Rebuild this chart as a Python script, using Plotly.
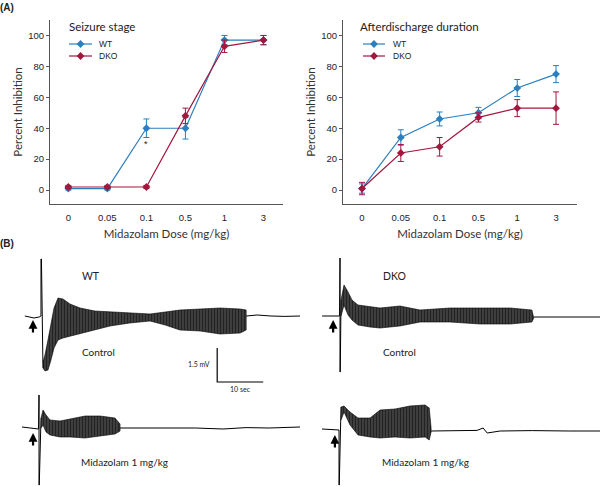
import plotly.graph_objects as go

# ---------------- Panel A data ----------------
doses = ["0", "0.05", "0.1", "0.5", "1", "3"]

seizure_wt = [1, 1, 40, 40, 97, 97]
seizure_wt_err = [1, 1, 6, 7, 3, 3]
seizure_dko = [2, 2, 2, 48, 93, 97]
seizure_dko_err = [1, 1, 1, 5, 4, 3]

ad_wt = [1, 34, 46, 50, 66, 75]
ad_wt_err = [3, 5, 4.5, 3.5, 5.5, 5.5]
ad_dko = [1, 24, 28, 47, 53, 53]
ad_dko_err = [4, 5.5, 6, 3, 5.5, 10.5]

y_ticks = [0, 20, 40, 60, 80, 100]
series_names = ["WT", "DKO"]

# ---------------- Panel B data (time s rel. to stimulus, voltage mV) ----------------
# WT control
wtc_line_t = [-3.5, -1.5, -0.4, 0.0, 0.0, 0.1, 0.43]
wtc_line_v = [0.0, -0.1, -0.05, 0.0, 2.85, 2.85, -2.6]
wtc_env_t = [0.43, 0.87, 1.52, 2.17, 2.83, 3.7, 4.78, 6.3, 8.5, 11.7, 15.0, 19.3, 23.7, 27.0, 30.2, 34.6, 38.9, 43.3, 44.6]
wtc_env_up = [-2.3, -1.95, -1.2, -0.3, 0.4, 0.9, 0.85, 0.6, 0.4, 0.25, 0.2, 0.15, 0.1, 0.2, 0.3, 0.35, 0.4, 0.35, 0.3]
wtc_env_lo = [-2.6, -2.75, -2.7, -2.2, -1.6, -1.2, -1.1, -1.0, -0.9, -0.7, -0.5, -0.35, -0.25, -0.45, -0.7, -0.75, -0.9, -0.85, -0.7]
wtc_post_t = [44.6, 47.0, 50.0, 53.0, 56.3]
wtc_post_v = [0.0, 0.05, 0.0, -0.02, 0.0]

# DKO control
dkc_line_t = [-3.9, -0.1, 0.0, 0.0, 0.05, 0.22]
dkc_line_v = [0.0, 0.0, 2.9, -2.8, -2.8, 0.8]
dkc_env_t = [0.22, 0.87, 1.74, 2.6, 3.9, 6.5, 8.7, 13.0, 17.4, 23.9, 30.4, 37.0, 41.7, 42.1]
dkc_env_up = [0.8, 1.55, 1.2, 0.8, 0.55, 0.45, 0.4, 0.5, 0.3, 0.4, 0.4, 0.4, 0.3, 0.0]
dkc_env_lo = [0.0, 0.55, 0.05, -0.2, -0.45, -0.55, -0.6, -0.5, -0.3, -0.3, -0.4, -0.4, -0.3, -0.1]
dkc_post_t = [42.1, 45.0, 50.0, 56.5]
dkc_post_v = [-0.05, -0.05, -0.07, -0.05]

# WT midazolam
wtm_line_t = [-3.7, -0.1, 0.0, 0.0, 0.05, 0.43]
wtm_line_v = [0.05, -0.05, 1.65, -2.85, -2.85, 0.5]
wtm_env_t = [0.43, 0.87, 1.52, 2.39, 4.57, 6.74, 10.0, 13.26, 16.5, 17.6]
wtm_env_up = [0.5, 0.9, 0.65, 0.4, 0.35, 0.45, 0.6, 0.6, 0.5, 0.2]
wtm_env_lo = [0.0, 0.15, -0.2, -0.35, -0.45, -0.45, -0.5, -0.4, -0.3, -0.15]
wtm_post_t = [17.6, 22.0, 28.0, 34.0, 40.0, 45.0, 50.0, 55.0, 56.7]
wtm_post_v = [0.0, 0.0, -0.03, 0.0, -0.05, 0.02, 0.0, 0.02, 0.05]

# DKO midazolam
dkm_line_t = [-3.7, -0.1, 0.0, 0.0, 0.05, 0.43]
dkm_line_v = [0.1, 0.05, 0.05, -2.7, -2.7, 1.2]
dkm_env_t = [0.43, 1.09, 2.39, 4.13, 6.74, 8.91, 12.17, 15.4, 18.7, 19.6, 20.0]
dkm_env_up = [1.2, 1.25, 0.95, 0.65, 0.65, 1.05, 1.1, 1.25, 1.3, 1.15, 0.15]
dkm_env_lo = [0.55, 0.95, 0.3, -0.2, -0.3, -0.35, -0.3, -0.35, -0.3, -0.45, -0.05]
dkm_post_t = [20.0, 25.0, 30.0, 31.3, 32.2, 35.0, 42.0, 50.0, 56.7]
dkm_post_v = [0.0, 0.02, 0.03, 0.15, -0.1, 0.0, 0.02, 0.0, 0.0]

# scale bar (10 s, 1.5 mV)
scale_t = [38.3, 38.3, 48.3]
scale_v = [-1.6, -3.3, -3.3]

BLUE = "#2a7fbf"
RED = "#a3173f"
COLORS = [BLUE, RED]
TXT = "Lato"
NUM = "Liberation Sans"
W, H = 600, 487

fig = go.Figure()


def add_series(xa, ya, y, err, color, name):
    fig.add_trace(go.Scatter(
        x=doses, y=y, mode="lines+markers", name=name,
        xaxis=xa, yaxis=ya, showlegend=False,
        line=dict(color=color, width=1.2),
        marker=dict(symbol="diamond", size=6, color=color),
        error_y=dict(type="data", array=err, color=color, thickness=1, width=3),
    ))


add_series("x", "y", seizure_wt, seizure_wt_err, BLUE, "WT")
add_series("x", "y", seizure_dko, seizure_dko_err, RED, "DKO")
add_series("x2", "y2", ad_wt, ad_wt_err, BLUE, "WT")
add_series("x2", "y2", ad_dko, ad_dko_err, RED, "DKO")


def add_eeg(xa, ya, lt, lv, et, eu, el, pt, pv):
    fig.add_trace(go.Scatter(x=lt, y=lv, xaxis=xa, yaxis=ya, mode="lines",
                             line=dict(color="black", width=1), showlegend=False, hoverinfo="skip"))
    fig.add_trace(go.Scatter(x=et + et[::-1], y=eu + el[::-1], xaxis=xa, yaxis=ya, mode="lines",
                             fill="toself", fillcolor="rgba(0,0,0,0.75)",
                             fillpattern=dict(shape="|", size=3, solidity=0.5, fgcolor="black",
                                              bgcolor="rgba(0,0,0,0.72)"),
                             line=dict(color="black", width=0.6), showlegend=False, hoverinfo="skip"))
    fig.add_trace(go.Scatter(x=pt, y=pv, xaxis=xa, yaxis=ya, mode="lines",
                             line=dict(color="black", width=1), showlegend=False, hoverinfo="skip"))


add_eeg("x3", "y3", wtc_line_t, wtc_line_v, wtc_env_t, wtc_env_up, wtc_env_lo, wtc_post_t, wtc_post_v)
add_eeg("x4", "y4", dkc_line_t, dkc_line_v, dkc_env_t, dkc_env_up, dkc_env_lo, dkc_post_t, dkc_post_v)
add_eeg("x5", "y5", wtm_line_t, wtm_line_v, wtm_env_t, wtm_env_up, wtm_env_lo, wtm_post_t, wtm_post_v)
add_eeg("x6", "y6", dkm_line_t, dkm_line_v, dkm_env_t, dkm_env_up, dkm_env_lo, dkm_post_t, dkm_post_v)

fig.add_trace(go.Scatter(x=scale_t, y=scale_v, xaxis="x3", yaxis="y3", mode="lines",
                         line=dict(color="black", width=1.2), showlegend=False, hoverinfo="skip"))

# legend samples drawn on a pixel-space overlay axis
legend_spots = [(69, 92, 99), (363, 385, 393)]
legend_rows = [44, 56]
for (x0, x1, xt) in legend_spots:
    for name, color, yr in zip(series_names, COLORS, legend_rows):
        fig.add_trace(go.Scatter(x=[x0, (x0 + x1) / 2, x1], y=[yr, yr, yr], xaxis="x7", yaxis="y7",
                                 mode="lines", line=dict(color=color, width=1.2),
                                 showlegend=False, hoverinfo="skip"))
        fig.add_trace(go.Scatter(x=[(x0 + x1) / 2], y=[yr], xaxis="x7", yaxis="y7",
                                 mode="markers", marker=dict(symbol="diamond", size=6, color=color),
                                 showlegend=False, hoverinfo="skip"))


def ydom(top, bottom):
    return [1 - bottom / H, 1 - top / H]


axis_common = dict(showline=True, linecolor="#555", linewidth=1, showgrid=False, zeroline=False,
                   automargin=False, tickfont=dict(family=NUM, size=9.5, color="#222"))

xa_common = dict(axis_common, type="category", ticks="", ticklabelstandoff=5,
                 title=dict(text="Midazolam Dose (mg/kg)", font=dict(family=TXT, size=11.5, color="#333"), standoff=7))
ya_common = dict(axis_common, range=[-9, 110], tickvals=y_ticks, ticks="outside", ticklen=3, tickcolor="#555",
                 title=dict(text="Percent Inhibition", font=dict(family=TXT, size=11.5, color="#333"), standoff=3))

hidden = dict(visible=False, showgrid=False, zeroline=False, automargin=False)

fig.update_layout(
    width=W, height=H, margin=dict(l=0, r=0, t=0, b=0, pad=0, autoexpand=False),
    paper_bgcolor="white", plot_bgcolor="rgba(0,0,0,0)", showlegend=False,
    xaxis=dict(xa_common, domain=[50 / W, 283 / W], range=[-0.47, 5.5], anchor="y"),
    yaxis=dict(ya_common, domain=ydom(20, 204), anchor="x"),
    xaxis2=dict(xa_common, domain=[343 / W, 577 / W], range=[-0.49, 5.54], anchor="y2"),
    yaxis2=dict(ya_common, domain=ydom(20, 204), anchor="x2"),
    xaxis3=dict(hidden, domain=[0, 0.5], range=[-8.91, 56.3], anchor="y3"),
    yaxis3=dict(hidden, domain=ydom(250, 385), range=[-3.45, 3.3], anchor="x3"),
    xaxis4=dict(hidden, domain=[0.5, 1], range=[-8.7, 56.5], anchor="y4"),
    yaxis4=dict(hidden, domain=ydom(250, 385), range=[-3.45, 3.3], anchor="x4"),
    xaxis5=dict(hidden, domain=[0, 0.5], range=[-8.48, 56.7], anchor="y5"),
    yaxis5=dict(hidden, domain=ydom(390, 487), range=[-2.95, 1.9], anchor="x5"),
    xaxis6=dict(hidden, domain=[0.5, 1], range=[-8.48, 56.7], anchor="y6"),
    yaxis6=dict(hidden, domain=ydom(390, 487), range=[-2.8, 2.05], anchor="x6"),
    xaxis7=dict(hidden, domain=[0, 1], range=[0, W], anchor="y7"),
    yaxis7=dict(hidden, domain=[0, 1], range=[H, 0], anchor="x7"),
)

ann = []


def txt(x, y, s, size=10.5, family=TXT, bold=False, color="#222"):
    ann.append(dict(x=x / W, y=1 - y / H, xref="paper", yref="paper", text=("<b>%s</b>" % s) if bold else s,
                    showarrow=False, xanchor="left", yanchor="middle", borderpad=0, borderwidth=0,
                    font=dict(family=family, size=size, color=color)))


txt(0, 7, "(A)", size=10, family=NUM, bold=True)
txt(0, 243, "(B)", size=10, family=NUM, bold=True)
txt(69, 27, "Seizure stage", size=11.5)
txt(360, 27, "Afterdischarge duration", size=11.5)
for (x0, x1, xt) in legend_spots:
    for name, yr in zip(series_names, legend_rows):
        txt(xt, yr, name, size=8.5, family=NUM)
txt(82, 276, "WT", size=10.5)
txt(82, 352, "Control", size=10)
txt(383, 276, "DKO", size=10.5)
txt(383, 352, "Control", size=10)
txt(81, 462, "Midazolam 1 mg/kg", size=10)
txt(382, 462, "Midazolam 1 mg/kg", size=10)
txt(188, 364, "1.5 mV", size=7)
txt(230, 389, "10 sec", size=7)

# asterisk under WT at dose 0.1 (category index 2)
ann.append(dict(x=2, y=30, xref="x", yref="y", text="*", showarrow=False,
                font=dict(family=NUM, size=9, color="#222")))

# stimulus arrows
for xa, ya, t, v in [("x3", "y3", -1.74, -0.2), ("x4", "y4", -1.5, -0.2),
                     ("x5", "y5", -1.3, -0.25), ("x6", "y6", -0.9, -0.2)]:
    ann.append(dict(x=t, y=v, xref=xa, yref=ya, ax=0, ay=14, showarrow=True,
                    arrowhead=2, arrowsize=0.8, arrowwidth=2.2, arrowcolor="black", text=""))

fig.update_layout(annotations=ann)
fig.write_html("out.html", config={"displayModeBar": False},
               post_script="document.body.style.margin='0';document.body.style.padding='0';")
